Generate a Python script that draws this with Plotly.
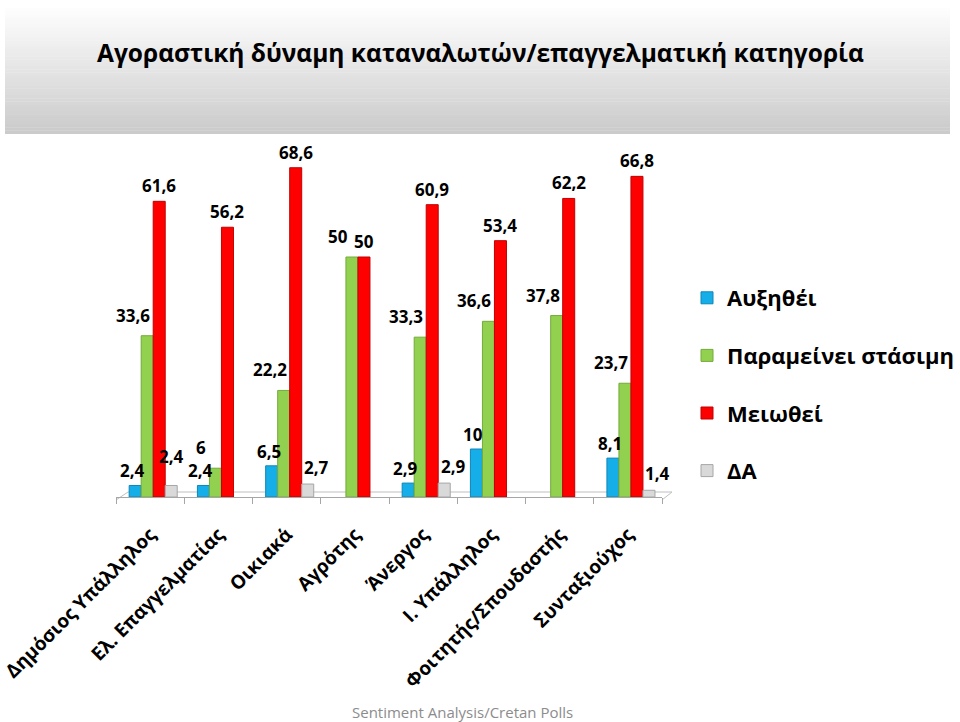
import plotly.graph_objects as go

categories = ["Δημόσιος Υπάλληλος", "Ελ. Επαγγελματίας", "Οικιακά", "Αγρότης",
              "Άνεργος", "Ι. Υπάλληλος", "Φοιτητής/Σπουδαστής", "Συνταξιούχος"]
series_names = ["Αυξηθέι", "Παραμείνει στάσιμη", "Μειωθεί", "ΔΑ"]
increase = [2.4, 2.4, 6.5, None, 2.9, 10, None, 8.1]
same = [33.6, 6, 22.2, 50, 33.3, 36.6, 37.8, 23.7]
decrease = [61.6, 56.2, 68.6, 50, 60.9, 53.4, 62.2, 66.8]
dk = [2.4, None, 2.7, None, 2.9, None, None, 1.4]

all_series = [increase, same, decrease, dk]
colors = ["#16AEE8", "#92D050", "#FF0000", "#D9D9D9"]
edge = ["#0E86B8", "#74AA3A", "#C00000", "#A6A6A6"]

FONT = "Open Sans"
W, H = 960, 722
L, R, T, B = 116, 298, 161, 225
PW, PH = W - L - R, H - T - B
bar_w = 0.176
shift = 0.045
cat_px = PW / len(categories)


def px_x(x):
    return (x - L) / PW


def px_y(y):
    return (H - y - B) / PH


fig = go.Figure()

# title box with vertical gradient
n = 40
for i in range(n):
    f = i / (n - 1)
    g = int(255 - f * 52)
    fig.add_shape(type="rect", xref="paper", yref="paper",
                  x0=px_x(5), x1=px_x(950),
                  y0=px_y(5 + (i + 1) * 129 / n),
                  y1=px_y(5 + i * 129 / n) + 0.001,
                  fillcolor=f"rgb({g},{g},{g})", line_width=0, layer="below")

# 3D floor edges
floor_col = "#BFBFBF"
for (x0, y0, x1, y1) in [(128, 492, 672, 492), (116, 500, 128, 492), (662, 500, 672, 492)]:
    fig.add_shape(type="line", xref="paper", yref="paper",
                  x0=px_x(x0), y0=px_y(y0), x1=px_x(x1), y1=px_y(y1),
                  line=dict(color=floor_col, width=1), layer="below")

for k, (name, vals) in enumerate(zip(series_names, all_series)):
    off = -2 * bar_w + k * bar_w + shift
    fig.add_trace(go.Bar(
        x=categories, y=vals, name=name, width=bar_w, offset=off,
        marker=dict(color=colors[k], line=dict(color=edge[k], width=1)),
        legendgroup=name, hoverinfo="skip"))

label_dx = [-3, -14, 0, 9]
label_dy = [2, 8, 3, 4]
label_nudge = {(3, 0): (-9, 12)}
for k, vals in enumerate(all_series):
    center_px = (-1.5 + k) * bar_w * cat_px + shift * cat_px
    for c_i, (c, v) in enumerate(zip(categories, vals)):
        if v is None:
            continue
        ndx, ndy = label_nudge.get((k, c_i), (0, 0))
        fig.add_annotation(x=c, y=v, text=f"{v:g}".replace(".", ","),
                           showarrow=False, yanchor="bottom", borderpad=0,
                           xshift=center_px + label_dx[k] + ndx,
                           yshift=label_dy[k] + ndy,
                           font=dict(family=FONT, size=17, color="black", weight="bold"))

fig.add_annotation(xref="paper", yref="paper", x=px_x(480), y=px_y(52),
                   xanchor="center", yanchor="middle",
                   text="Αγοραστική δύναμη καταναλωτών/επαγγελματική κατηγορία",
                   showarrow=False, font=dict(family=FONT, size=24.5, color="black", weight="bold"))
fig.add_annotation(xref="paper", yref="paper", x=px_x(462), y=px_y(712),
                   xanchor="center", yanchor="middle",
                   text="Sentiment Analysis/Cretan Polls", showarrow=False,
                   font=dict(family=FONT, size=15, color="#8C8C8C"))

fig.update_layout(
    width=W, height=H, margin=dict(l=L, r=R, t=T, b=B, autoexpand=False),
    paper_bgcolor="white", plot_bgcolor="rgba(0,0,0,0)",
    barmode="overlay", showlegend=True,
    legend=dict(x=px_x(687), y=px_y(277),
                xanchor="left", yanchor="top", tracegroupgap=26,
                font=dict(family=FONT, size=22, color="black", weight="bold"),
                bgcolor="rgba(0,0,0,0)"),
    xaxis=dict(tickangle=-45, tickson="boundaries", ticks="outside", ticklen=6,
               tickcolor="#A6A6A6", showline=True, linecolor="#A6A6A6", linewidth=1,
               showgrid=False, range=[-0.5, 7.5], automargin=False,
               ticklabelstandoff=18,
               tickfont=dict(family=FONT, size=19, color="black", weight="bold")),
    yaxis=dict(range=[0, 70], visible=False, showgrid=False, automargin=False),
)

fig.write_html("out.html", config={"displayModeBar": False},
               post_script="document.body.style.margin='0';document.body.style.overflow='hidden';")
